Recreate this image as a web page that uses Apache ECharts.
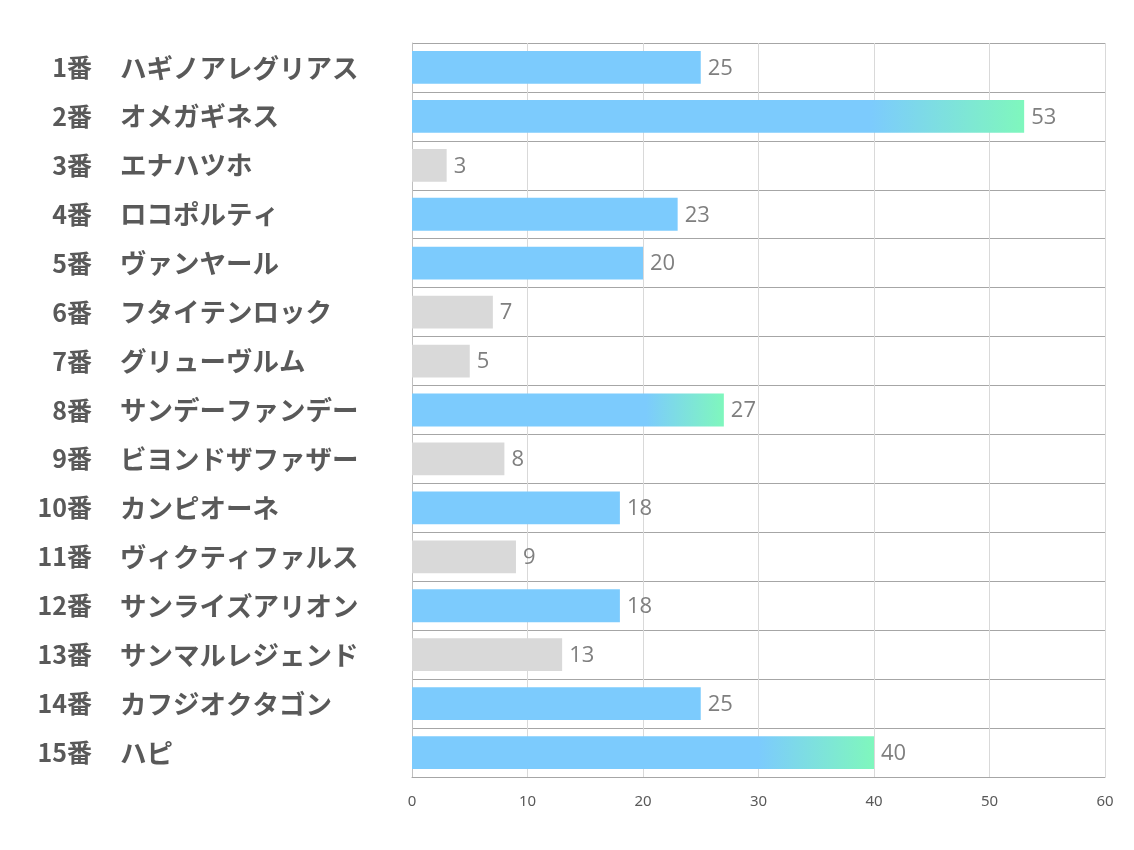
<!DOCTYPE html>
<html><head><meta charset="utf-8">
<script src="https://cdn.jsdelivr.net/npm/echarts@6/dist/echarts.min.js"></script>
<style>html,body{margin:0;padding:0;background:#fff;}#c{width:1134px;height:850px;}</style>
</head><body><div id="c"></div>
<script>
const numbers = ['1番','2番','3番','4番','5番','6番','7番','8番','9番','10番','11番','12番','13番','14番','15番'];
const names = ['ハギノアレグリアス','オメガギネス','エナハツホ','ロコポルティ','ヴァンヤール','フタイテンロック','グリューヴルム','サンデーファンデー','ビヨンドザファザー','カンピオーネ','ヴィクティファルス','サンライズアリオン','サンマルレジェンド','カフジオクタゴン','ハピ'];
const values = [25,53,3,23,20,7,5,27,8,18,9,18,13,25,40];
const xTicks = [0,10,20,30,40,50,60];

const BLUE = '#7ccbfd', GREEN = '#7ff7bd', GRAY = '#d9d9d9';
const sorted = values.map((v,i)=>({v,i})).sort((a,b)=>b.v-a.v);
const rank = {}; sorted.forEach((o,r)=>rank[o.i]=r);
const grad = new echarts.graphic.LinearGradient(0,0,1,0,[{offset:0,color:BLUE},{offset:0.75,color:BLUE},{offset:1,color:GREEN}]);
const data = values.map((v,i)=>({value:v,itemStyle:{color: rank[i]<3 ? grad : (rank[i]<9 ? BLUE : GRAY)}}));

const labelFont = {fontWeight:'bold',color:'#595959',fontFamily:'Noto Sans CJK JP'};

const chart = echarts.init(document.getElementById('c'));
chart.setOption({
  animation:false,
  grid:{left:412,right:29,top:43,bottom:73,containLabel:false},
  xAxis:{type:'value',min:xTicks[0],max:xTicks[xTicks.length-1],interval:10,
    axisLine:{show:true,lineStyle:{color:'#a6a6a6',width:1}},
    axisTick:{show:false},
    splitLine:{show:true,lineStyle:{color:'#d9d9d9',width:1}},
    axisLabel:{color:'#595959',fontSize:15,fontFamily:'Noto Sans',margin:17}
  },
  yAxis:[
    {type:'category',inverse:true,data:numbers,position:'left',
      axisLine:{show:true,lineStyle:{color:'#bfbfbf',width:1}},
      axisTick:{show:false},
      splitLine:{show:true,lineStyle:{color:'#a6a6a6',width:1}},
      axisLabel:Object.assign({margin:320,align:'right',fontSize:25},labelFont)
    },
    {type:'category',inverse:true,data:names,position:'left',offset:0,
      axisLine:{show:false},axisTick:{show:false},splitLine:{show:false},
      axisLabel:Object.assign({margin:292,align:'left',fontSize:26.5},labelFont)
    }
  ],
  series:[{type:'bar',data:data,barWidth:'67%',yAxisIndex:0,
    label:{show:true,position:'right',distance:7,offset:[0,1],color:'#7f7f7f',fontSize:22,fontFamily:'Open Sans'}
  }]
});
</script></body></html>
